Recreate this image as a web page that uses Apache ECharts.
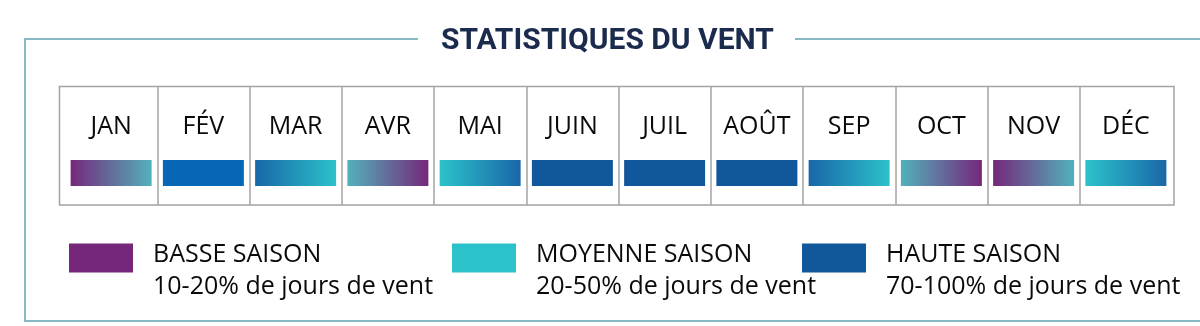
<!DOCTYPE html>
<html>
<head>
<meta charset="utf-8">
<title>Statistiques du vent</title>
<script src="https://cdn.jsdelivr.net/npm/echarts@6/dist/echarts.min.js"></script>
<style>
  html, body { margin: 0; padding: 0; background: #ffffff; }
  #chart { width: 1200px; height: 326px; }
</style>
</head>
<body>
<div id="chart"></div>
<script>
// Months of the year
const months = ['JAN', 'FÉV', 'MAR', 'AVR', 'MAI', 'JUIN', 'JUIL', 'AOÛT', 'SEP', 'OCT', 'NOV', 'DÉC'];
// Wind season at the start and at the end of each month
const seasonFrom = ['basse', 'haute', 'haute', 'moyenne', 'moyenne', 'haute', 'haute', 'haute', 'haute', 'moyenne', 'basse', 'moyenne'];
const seasonTo   = ['moyenne', 'haute', 'moyenne', 'basse', 'haute', 'haute', 'haute', 'haute', 'moyenne', 'basse', 'moyenne', 'haute'];
// Seasons and their share of windy days
const seasonKeys = ['basse', 'moyenne', 'haute'];
const seasonNames = ['BASSE SAISON', 'MOYENNE SAISON', 'HAUTE SAISON'];
const seasonRanges = ['10-20% de jours de vent', '20-50% de jours de vent', '70-100% de jours de vent'];

// ---- styling ----
const SEASON_COLOR = { basse: '#75287b', moyenne: '#2cc2cc', haute: '#11579b' };
const MONTH_TINT = { 'FÉV': '#0866b6' };
// colour of one end of a month strip, given the season at the other end
function tone(s, other) {
  if (s === other) return SEASON_COLOR[s];
  if (s === 'moyenne' && other === 'basse') return '#52b1bb';
  if (s === 'haute') return '#1967a7';
  return SEASON_COLOR[s];
}
const TEXT_FONT = 'Open Sans';
const TEXT_COLOR = '#0a0a0a';
const LINE_COLOR = '#88b9c4';
const CELL_COLOR = '#a3a3a3';
const STRIP_TOP = 0.378;     // y-axis units (0 = table bottom, 1 = table top)
const STRIP_BOTTOM = 0.16;
const STRIP_FRACTION = 0.878;
const LEGEND_X = [69, 452, 802];

const chart = echarts.init(document.getElementById('chart'), null, { renderer: 'canvas' });

const legendSeries = seasonKeys.map((k, idx) => ({
  type: 'bar',
  name: seasonNames[idx],
  data: [],
  itemStyle: { color: SEASON_COLOR[k] }
}));

const legendRich = {
  s: { fontSize: 10, lineHeight: 26 },
  n: { fontFamily: TEXT_FONT, fontSize: 25, lineHeight: 32, color: TEXT_COLOR, padding: [0, 0, 0, 15] },
  d: { fontFamily: TEXT_FONT, fontSize: 25, lineHeight: 32, color: TEXT_COLOR, padding: [0, 0, 0, 15] }
};

chart.setOption({
  animation: false,
  backgroundColor: '#ffffff',
  title: {
    text: 'STATISTIQUES DU VENT',
    left: 441,
    top: 23,
    padding: 0,
    textStyle: { fontFamily: 'Roboto', fontWeight: 'bold', fontSize: 30, lineHeight: 36, color: '#1b2b4d' }
  },
  grid: { left: 65, right: 28, top: 86, bottom: 121 },
  xAxis: {
    type: 'category',
    data: months,
    position: 'top',
    boundaryGap: true,
    axisLine: { show: false },
    axisTick: { show: false },
    splitLine: {
      show: true, showMinLine: false, showMaxLine: false,
      lineStyle: { color: CELL_COLOR, width: 1.5 }
    },
    axisLabel: {
      inside: true, interval: 0, margin: 40.5, verticalAlign: 'middle',
      fontFamily: TEXT_FONT, fontSize: 25, color: TEXT_COLOR
    }
  },
  yAxis: { type: 'value', min: 0, max: 1, show: false },
  legend: seasonNames.map((name, idx) => ({
    data: [{ name: name, icon: 'rect' }],
    left: LEGEND_X[idx],
    top: 221,
    padding: 0,
    itemWidth: 64,
    itemHeight: 29,
    selectedMode: false,
    formatter: n => '{s| }\n{n|' + n + '}\n{d|' + seasonRanges[idx] + '}',
    textStyle: { fontFamily: TEXT_FONT, fontSize: 25, color: TEXT_COLOR, rich: legendRich }
  })),
  graphic: [
    { type: 'polyline', silent: true,
      shape: { points: [[418, 39], [25, 39], [25, 321], [1200, 321]] },
      style: { stroke: LINE_COLOR, lineWidth: 2, fill: null } },
    { type: 'line', silent: true,
      shape: { x1: 795, y1: 39, x2: 1200, y2: 39 },
      style: { stroke: LINE_COLOR, lineWidth: 2 } },
    { type: 'rect', silent: true,
      shape: { x: 59.5, y: 86.5, width: 1114.5, height: 118.5 },
      style: { fill: null, stroke: CELL_COLOR, lineWidth: 1.5 } }
  ],
  series: [
    {
      type: 'custom',
      name: 'mois',
      data: months.map((m, i) => [i, 1]),
      encode: { x: 0, y: 1 },
      renderItem: function (params, api) {
        const i = api.value(0);
        const p0 = api.coord([i, STRIP_TOP]);
        const p1 = api.coord([i, STRIP_BOTTOM]);
        const w = api.size([1, 0])[0] * STRIP_FRACTION;
        const m = months[i];
        const c0 = MONTH_TINT[m] || tone(seasonFrom[i], seasonTo[i]);
        const c1 = MONTH_TINT[m] || tone(seasonTo[i], seasonFrom[i]);
        return {
          type: 'rect',
          shape: { x: p0[0] - w / 2, y: p0[1], width: w, height: p1[1] - p0[1] },
          style: {
            fill: new echarts.graphic.LinearGradient(0, 0, 1, 0, [
              { offset: 0, color: c0 },
              { offset: 1, color: c1 }
            ])
          }
        };
      }
    }
  ].concat(legendSeries)
});
</script>
</body>
</html>
